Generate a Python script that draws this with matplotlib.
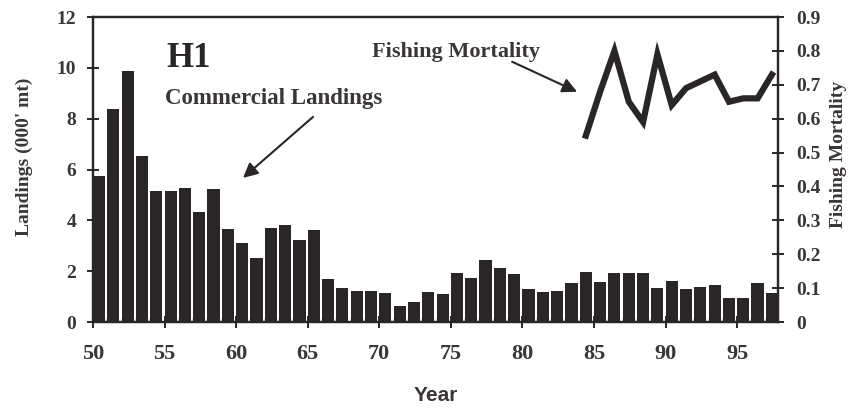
import matplotlib
matplotlib.use("Agg")
import matplotlib.pyplot as plt
from matplotlib.ticker import MultipleLocator

years = list(range(1950, 1998))
landings = [5.75, 8.37, 9.88, 6.55, 5.16, 5.16, 5.26, 4.34, 5.25, 3.67,
            3.12, 2.50, 3.71, 3.80, 3.23, 3.62, 1.68, 1.35, 1.23, 1.23,
            1.14, 0.64, 0.79, 1.19, 1.10, 1.92, 1.72, 2.44, 2.14, 1.90,
            1.29, 1.17, 1.21, 1.54, 1.98, 1.57, 1.93, 1.93, 1.93, 1.35,
            1.63, 1.30, 1.39, 1.46, 0.93, 0.96, 1.52, 1.15]
f_years = list(range(1984, 1998))
fishing_mortality = [0.55, 0.68, 0.80, 0.65, 0.59, 0.79, 0.64, 0.69,
                     0.71, 0.73, 0.65, 0.66, 0.66, 0.73]
x_ticks = [50, 55, 60, 65, 70, 75, 80, 85, 90, 95]

serif = "Liberation Serif"
ink = "#2a2526"
txt = "#3a3536"
fig = plt.figure(figsize=(8.53, 4.15), dpi=100)
ax = fig.add_axes([0.109, 0.224, 0.803, 0.735])

yrs2 = [y - 1900 for y in years]
ax.bar(yrs2, landings, width=0.85, align="edge", color=ink, edgecolor="none")
ax.set_xlim(50, 97.85)
ax.set_ylim(0, 12)
ax.set_xticks(x_ticks)
ax.xaxis.set_minor_locator(MultipleLocator(1))
ax.set_yticks(range(0, 13, 2))
for s in ax.spines.values():
    s.set_linewidth(1.6)
    s.set_color(ink)
ax.tick_params(axis="both", which="major", direction="inout", length=8, width=1.4,
               colors=ink)
ax.tick_params(axis="x", which="minor", direction="in", length=3, width=1.0, colors=ink)
ax.tick_params(axis="x", pad=12, labelsize=16)
ax.tick_params(axis="y", pad=8, labelsize=14)
for lab in ax.get_xticklabels() + ax.get_yticklabels():
    lab.set_fontfamily(serif)
    lab.set_fontweight("bold")
    lab.set_color(txt)
ax.set_ylabel("Landings (000' mt)", fontfamily=serif, fontweight="bold", fontsize=14,
              color=txt)
ax.yaxis.set_label_coords(-0.088, 0.543)
ax.set_xlabel("Year", fontfamily="Liberation Sans", fontweight="bold", fontsize=15,
              color=txt)
ax.xaxis.set_label_coords(0.5, -0.21)

ax2 = ax.twinx()
fx = [y - 1900 + 0.43 for y in f_years]
ax2.plot(fx, fishing_mortality, color=ink, linewidth=4.5, solid_joinstyle="miter")
ax2.set_ylim(0, 0.9)
ax2.set_yticks([i / 10 for i in range(10)])
ax2.set_yticklabels(["0"] + [f"0.{i}" for i in range(1, 10)])
ax2.tick_params(axis="y", direction="inout", length=8, width=1.4, colors=ink,
                labelsize=14, pad=9)
for lab in ax2.get_yticklabels():
    lab.set_fontfamily(serif)
    lab.set_fontweight("bold")
    lab.set_color(txt)
ax2.set_ylabel("Fishing Mortality", fontfamily=serif, fontweight="bold", fontsize=14,
               color=txt)
ax2.yaxis.set_label_coords(1.076, 0.548)
for s in ax2.spines.values():
    s.set_linewidth(1.6)
    s.set_color(ink)

ax.text(55.1, 10.04, "H1", fontfamily=serif, fontweight="bold", fontsize=25, color=ink)
ax.text(55.03, 8.58, "Commercial Landings", fontfamily=serif, fontweight="bold",
        fontsize=16.5, color=txt)
ax.text(69.5, 10.43, "Fishing Mortality", fontfamily=serif, fontweight="bold",
        fontsize=16, color=txt)
arrow = dict(arrowstyle="-|>", color=ink, lw=1.5, mutation_scale=22, shrinkA=0, shrinkB=0)
ax.annotate("", xy=(60.48, 5.67), xytext=(65.37, 8.07), arrowprops=arrow)
ax.annotate("", xy=(83.82, 9.06), xytext=(79.28, 10.24), arrowprops=arrow)

fig.savefig("out.png", dpi=100)
